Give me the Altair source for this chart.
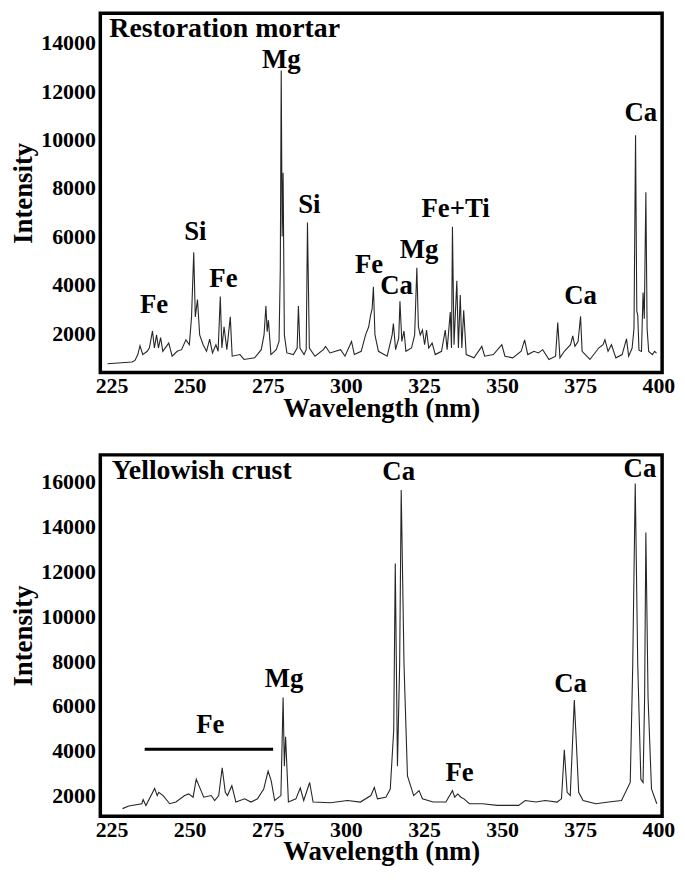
import altair as alt
import pandas as pd

FONT = "Liberation Serif, Times New Roman, Times, serif"

# ---------------- data ----------------
x_ticks = [225, 250, 275, 300, 325, 350, 375, 400]
x_domain = [221.4, 401.2]

top_y_ticks = [2000, 4000, 6000, 8000, 10000, 12000, 14000]
top_y_domain = [380, 15220]
bottom_y_ticks = [2000, 4000, 6000, 8000, 10000, 12000, 14000, 16000]
bottom_y_domain = [1080, 17200]

# Restoration mortar spectrum
top_wavelength = [
    223.7, 231.6, 232.5, 233.4, 234.1, 235.0, 236.4, 237.1, 238.1, 238.7,
    239.4, 240.0, 240.7, 241.4, 243.3, 244.4, 246.0, 247.4, 248.8, 249.9,
    250.6, 251.3, 251.8, 252.5, 253.2, 254.3, 255.4, 256.4, 257.3, 258.4,
    259.1, 259.8, 260.3, 261.0, 261.9, 263.0, 263.6, 266.1, 267.4, 270.8,
    272.9, 273.8, 274.4, 274.8, 275.2, 276.0, 277.7, 278.6, 279.0, 279.3,
    279.6, 279.9, 280.3, 281.1, 283.2, 284.4, 284.8, 285.3, 286.6, 287.3,
    287.7, 288.3, 290.1, 292.8, 293.5, 294.9, 298.3, 299.7, 301.8, 302.7,
    304.9, 306.3, 307.3, 307.9, 308.4, 308.8, 309.3, 310.4, 313.2, 314.8,
    315.2, 315.9, 316.9, 317.3, 317.9, 318.6, 319.2, 321.0, 322.0, 322.7,
    323.2, 323.8, 324.5, 325.2, 325.8, 326.5, 327.6, 328.6, 330.6, 331.8,
    332.4, 333.4, 333.8, 334.1, 334.6, 335.5, 336.0, 336.6, 337.1, 337.7,
    338.5, 341.0, 343.5, 344.4, 347.2, 349.9, 350.9, 353.4, 356.1, 357.2,
    358.2, 360.2, 361.6, 363.0, 365.0, 367.1, 367.8, 368.5, 369.9, 371.9,
    372.6, 373.3, 374.3, 375.1, 375.6, 378.1, 380.9, 382.3, 382.9, 383.9,
    385.0, 386.4, 388.4, 389.8, 390.5, 391.6, 392.2, 392.7, 393.1, 393.4,
    393.8, 394.6, 395.1, 395.5, 396.0, 396.4, 396.9, 398.1, 398.8, 399.4,
]
top_intensity = [
    742, 810, 877, 1120, 1486, 1120, 1256, 1391, 2095, 1391,
    1932, 1391, 1824, 1256, 1594, 1053, 1256, 1323, 1729, 1526,
    2677, 5342, 2677, 3394, 1932, 1526, 1256, 1756, 1188, 1526,
    1256, 3515, 1391, 2270, 1323, 2677, 1053, 1120, 918, 985,
    1323, 1932, 3123, 2068, 2541, 1120, 1323, 1662, 4638, 12851,
    6000, 8630, 1932, 1188, 1120, 1391, 3123, 1391, 1120, 1323,
    6573, 1391, 1053, 1323, 1459, 1188, 1323, 1053, 1662, 1120,
    1256, 1932, 2270, 2744, 3015, 3921, 1932, 1256, 1053, 1932,
    2406, 1323, 1797, 3326, 1662, 2095, 1256, 1391, 1932, 4706,
    2271, 1932, 2135, 1526, 2135, 1391, 1594, 1120, 1256, 2135,
    1323, 2880, 1391, 6397, 1526, 4165, 1391, 3583, 1391, 2947,
    1120, 985, 1459, 1053, 1120, 1526, 1053, 985, 1256, 1729,
    1120, 1256, 1188, 1323, 918, 1053, 2447, 985, 1256, 1526,
    1892, 1459, 1662, 2704, 1256, 918, 1391, 1526, 1729, 1256,
    1526, 985, 1120, 1770, 1053, 1391, 2200, 10180, 2900, 2750,
    1300, 1250, 3680, 2600, 7820, 2200, 1250, 1120, 1256, 1180,
]

# Yellowish crust spectrum
bottom_wavelength = [
    228.5, 230.5, 234.7, 235.1, 236.0, 238.8, 239.6, 240.1, 241.5, 243.6,
    245.6, 248.4, 249.7, 251.1, 252.1, 253.2, 254.5, 256.9, 258.0, 259.3,
    260.4, 261.4, 262.1, 263.5, 264.8, 267.6, 269.6, 271.7, 273.7, 275.1,
    276.1, 277.2, 279.2, 279.9, 280.3, 280.7, 281.6, 284.0, 285.4, 286.5,
    288.4, 289.5, 295.0, 300.5, 304.6, 308.0, 309.1, 310.1, 312.8, 314.2,
    315.3, 315.8, 316.5, 317.2, 317.7, 318.6, 319.7, 321.7, 323.4, 324.5,
    327.9, 332.0, 334.1, 334.8, 335.8, 336.8, 337.8, 339.5, 343.7, 348.5,
    355.3, 357.4, 360.8, 363.8, 367.6, 369.0, 369.9, 370.8, 371.8, 373.1,
    374.5, 375.9, 380.0, 384.1, 388.2, 391.0, 391.8, 392.6, 393.4, 394.4,
    395.1, 395.6, 396.0, 396.7, 397.8, 399.5,
]
bottom_intensity = [
    1417, 1533, 1635, 1825, 1560, 2320, 2000, 2146, 2000, 1635,
    1710, 2000, 2073, 1927, 2729, 2365, 1927, 2000, 1780, 2000,
    3240, 2146, 2000, 2437, 1710, 1854, 1710, 1854, 2292, 3094,
    2656, 1780, 2000, 6374, 3312, 4624, 1710, 1854, 2335, 1780,
    2583, 1710, 1680, 1780, 1710, 2000, 2365, 1854, 1927, 2292,
    4916, 12352, 3312, 7832, 15632, 7832, 2875, 2000, 2219, 1854,
    1710, 1710, 2219, 1927, 2073, 1927, 1854, 1635, 1635, 1563,
    1563, 1780, 1710, 1780, 1710, 1854, 4041, 2146, 2000, 6258,
    2146, 1780, 1635, 1710, 1780, 2583, 7832, 15924, 7832, 2729,
    2583, 6374, 13737, 6374, 2292, 1635,
]

# element annotations
top_label_text = ["Fe", "Si", "Fe", "Mg", "Si", "Fe", "Ca", "Mg", "Fe+Ti", "Ca", "Ca"]
top_label_wl = [238.6, 251.8, 260.8, 279.3, 288.3, 307.4, 316.2, 323.4, 335.1, 375.1, 394.4]
top_label_int = [3150, 6194, 4246, 13300, 7290, 4800, 3935, 5423, 7141, 3556, 11106]

bottom_label_text = ["Ca", "Ca", "Mg", "Fe", "Fe", "Ca"]
bottom_label_wl = [316.9, 394.1, 280.2, 256.6, 336.4, 371.9]
bottom_label_int = [16434, 16560, 7220, 5135, 3020, 6957]

top_title = "Restoration mortar"
top_title_pos = (224.3, 14560)
bottom_title = "Yellowish crust"
bottom_title_pos = (225.1, 16500)

fe_bar_wl = (235.6, 276.7)
fe_bar_int = 4070

# ---------------- chart ----------------
PLOT_W = 566
AXIS_STYLE = dict(
    labelFont=FONT, labelFontWeight="bold", labelFontSize=22, labelColor="black",
    titleFont=FONT, titleFontWeight="bold", titleFontSize=27, titleColor="black",
    ticks=False, tickSize=0, domain=False, grid=False, labelFlush=False, labelOverlap=False,
    format="d",
)


def panel(wl, inten, lab_t, lab_wl, lab_int, title, title_pos, y_domain, y_ticks, height, extra=None):
    line_df = pd.DataFrame({"wl": wl, "inten": inten})
    lab_df = pd.DataFrame({"wl": lab_wl, "inten": lab_int, "label": lab_t})
    title_df = pd.DataFrame({"wl": [title_pos[0]], "inten": [title_pos[1]], "label": [title]})

    x_enc = alt.X("wl:Q", scale=alt.Scale(domain=x_domain, nice=False, zero=False),
                  axis=alt.Axis(values=x_ticks, title="Wavelength (nm)", labelPadding=3,
                                titlePadding=-1, **AXIS_STYLE))
    y_enc = alt.Y("inten:Q", scale=alt.Scale(domain=y_domain, nice=False, zero=False),
                  axis=alt.Axis(values=y_ticks, title="Intensity", labelPadding=5,
                                titlePadding=3, **AXIS_STYLE))

    line = alt.Chart(line_df).mark_line(color="#262626", strokeWidth=1.1, clip=True).encode(x=x_enc, y=y_enc)
    labels = alt.Chart(lab_df).mark_text(font=FONT, fontSize=27, fontWeight="bold", align="center",
                                         baseline="middle", color="black").encode(
        x="wl:Q", y="inten:Q", text="label:N")
    ttl = alt.Chart(title_df).mark_text(font=FONT, fontSize=28, fontWeight="bold", align="left",
                                        baseline="middle", color="black").encode(
        x="wl:Q", y="inten:Q", text="label:N")
    layers = [line, labels, ttl]
    if extra is not None:
        layers.append(extra)
    return alt.layer(*layers).properties(width=PLOT_W, height=height)


top = panel(top_wavelength, top_intensity, top_label_text, top_label_wl, top_label_int,
            top_title, top_title_pos, top_y_domain, top_y_ticks, 362)

fe_df = pd.DataFrame({"wl": [fe_bar_wl[0]], "wl2": [fe_bar_wl[1]], "inten": [fe_bar_int]})
fe_bar = alt.Chart(fe_df).mark_rule(color="black", strokeWidth=3).encode(
    x="wl:Q", x2="wl2:Q", y="inten:Q")

bottom = panel(bottom_wavelength, bottom_intensity, bottom_label_text, bottom_label_wl, bottom_label_int,
               bottom_title, bottom_title_pos, bottom_y_domain, bottom_y_ticks, 364, extra=fe_bar)

chart = alt.vconcat(top, bottom, spacing=30).properties(padding=0).configure(
    font=FONT
).configure_view(
    stroke="black", strokeWidth=3.5
)

chart.save("out.html", embed_options={"renderer": "svg", "actions": False})
